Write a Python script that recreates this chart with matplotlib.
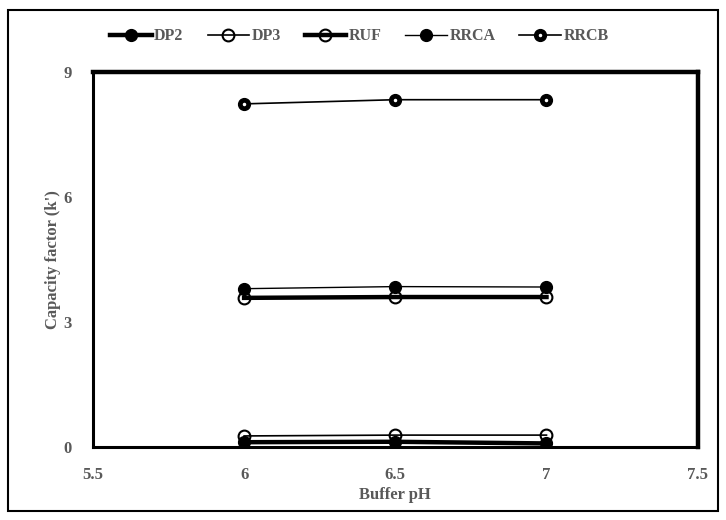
import matplotlib.pyplot as plt
from matplotlib.lines import Line2D
from matplotlib.patches import Rectangle
from matplotlib.legend_handler import HandlerTuple

# buffer pH values and capacity factors for each analyte
ph = [6, 6.5, 7]
dp2 = [0.12, 0.13, 0.09]
dp3 = [0.27, 0.29, 0.29]
ruf = [3.58, 3.60, 3.60]
rrca = [3.80, 3.85, 3.84]
rrcb = [8.23, 8.33, 8.33]

x_ticks = [5.5, 6, 6.5, 7, 7.5]
y_ticks = [0, 3, 6, 9]

gray = '#595959'
plt.rcParams['font.family'] = ['Liberation Serif', 'DejaVu Serif']
plt.rcParams['font.weight'] = 'bold'

fig = plt.figure(figsize=(7.26, 5.2), dpi=100)
ax = fig.add_axes([0.128, 0.140, 0.833, 0.722])

ms = 8.5
ax.plot(ph, dp2, color='black', lw=3.2, marker='o', ms=ms, mfc='black', mec='black', zorder=3)
ax.plot(ph, dp3, color='black', lw=1.2, marker='o', ms=ms, mfc='none', mec='black', mew=1.5, zorder=3)
ax.plot(ph, ruf, color='black', lw=3.2, marker='o', ms=ms, mfc='none', mec='black', mew=1.5, zorder=3)
ax.plot(ph, rrca, color='black', lw=1.0, marker='o', ms=ms, mfc='black', mec='black', zorder=3)
ax.plot(ph, rrcb, color='black', lw=1.2, marker='o', ms=ms, mfc='black', mec='black', zorder=3)
ax.plot(ph, rrcb, ls='none', marker='.', ms=3, color='white', zorder=4)

ax.set_xlim(5.5, 7.5)
ax.set_ylim(0, 9)
ax.set_xticks(x_ticks)
ax.set_xticklabels([f'{t:g}' for t in x_ticks])
ax.set_yticks(y_ticks)
ax.tick_params(length=0, labelsize=12, labelcolor=gray)
ax.tick_params(axis='x', pad=14)
ax.tick_params(axis='y', pad=15)
for lab in ax.get_xticklabels() + ax.get_yticklabels():
    lab.set_fontweight('bold')

for side in ['top', 'right']:
    ax.spines[side].set_linewidth(3.2)
for side in ['left', 'bottom']:
    ax.spines[side].set_linewidth(2.2)
for sp in ax.spines.values():
    sp.set_color('black')

ax.set_xlabel('Buffer pH', fontsize=12, fontweight='bold', color=gray, labelpad=3)
ax.set_ylabel("Capacity factor (k')", fontsize=12, fontweight='bold', color=gray, labelpad=2)

# legend entries
h_dp2 = Line2D([], [], color='black', lw=3.2, marker='o', ms=ms, mfc='black')
h_dp3 = Line2D([], [], color='black', lw=1.2, marker='o', ms=ms, mfc='none', mew=1.5)
h_ruf = Line2D([], [], color='black', lw=3.2, marker='o', ms=ms, mfc='none', mew=1.5)
h_rrca = Line2D([], [], color='black', lw=1.0, marker='o', ms=ms, mfc='black')
h_rrcb = (Line2D([], [], color='black', lw=1.2, marker='o', ms=ms, mfc='black'),
          Line2D([], [], ls='none', marker='.', ms=3, color='white'))
leg = fig.legend([h_dp2, h_dp3, h_ruf, h_rrca, h_rrcb],
                 ['DP2', 'DP3', 'RUF', 'RRCA', 'RRCB'],
                 handler_map={tuple: HandlerTuple(ndivide=1, pad=0)},
                 loc='center', bbox_to_anchor=(0.495, 0.93), ncol=5, frameon=False,
                 handlelength=2.6, columnspacing=1.5, handletextpad=0.15,
                 prop={'family': 'Liberation Serif', 'weight': 'bold', 'size': 11.5})
for t in leg.get_texts():
    t.set_color(gray)

# outer frame around the chart
fig.patches.append(Rectangle((0.011, 0.017), 0.978, 0.963, transform=fig.transFigure,
                             fill=False, edgecolor='black', lw=1.5))

fig.savefig('out.png', dpi=100)
